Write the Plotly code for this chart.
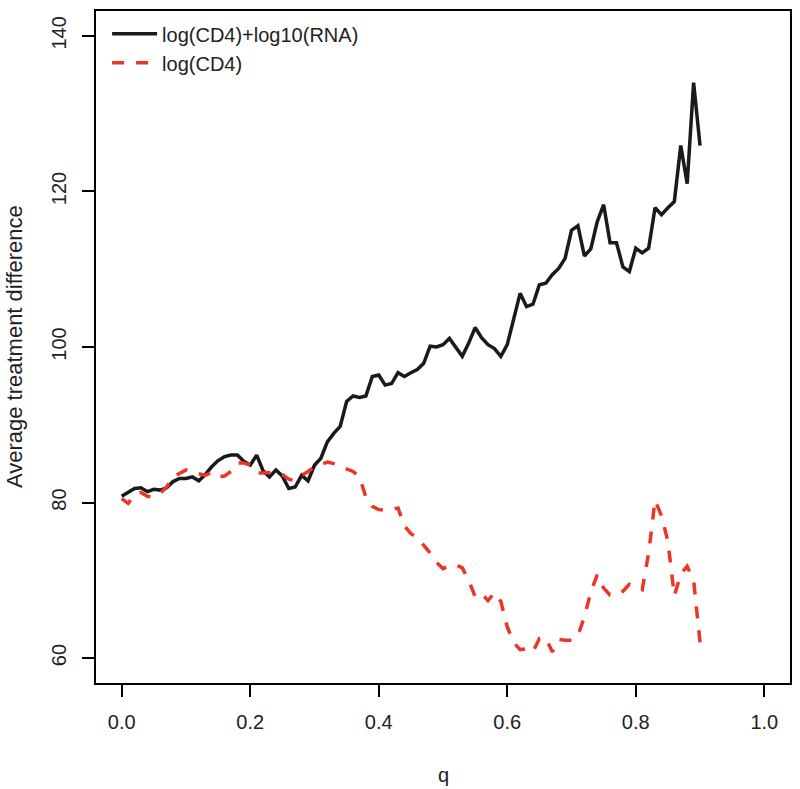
import plotly.graph_objects as go

# q grid: 0.00 .. 0.90 in steps of 0.01
q = [i / 100 for i in range(91)]

cd4_rna = [
    80.8, 81.3, 81.8, 81.9, 81.4, 81.7, 81.6, 81.9, 82.7, 83.1,
    83.1, 83.3, 82.8, 83.6, 84.6, 85.4, 85.9, 86.1, 86.1, 85.3,
    84.8, 86.1, 84.1, 83.3, 84.2, 83.4, 81.8, 82.0, 83.5, 82.8,
    84.8, 85.7, 87.8, 88.9, 89.8, 93.0, 93.7, 93.5, 93.7, 96.2,
    96.4, 95.1, 95.3, 96.7, 96.2, 96.7, 97.1, 97.9, 100.1, 100.0,
    100.3, 101.1, 100.0, 98.8, 100.5, 102.5, 101.2, 100.3, 99.8, 98.8,
    100.3, 103.5, 106.9, 105.2, 105.5, 108.0, 108.2, 109.3, 110.1, 111.4,
    115.0, 115.6, 111.7, 112.6, 116.1, 118.3, 113.4, 113.4, 110.3, 109.7,
    112.7, 112.1, 112.7, 117.9, 117.0, 117.9, 118.7, 125.9, 121.0, 134.0,
    125.9,
]

cd4 = [
    80.5, 79.9, 81.0, 81.3, 80.8, 80.7, 81.2, 82.0, 83.3, 83.8,
    84.2, 83.9, 83.7, 83.5, 83.9, 83.3, 83.4, 84.0, 85.1, 85.1,
    84.8, 83.8, 83.8, 83.8, 83.9, 83.6, 83.0, 82.8, 83.5, 84.0,
    84.6, 84.9, 85.2, 85.0, 84.7, 84.3, 84.0, 83.3, 80.7, 79.5,
    79.1, 79.0, 79.2, 79.3, 77.0, 76.0, 75.5, 74.5, 73.5, 72.3,
    71.5, 71.9, 72.0, 71.6, 70.0, 67.9, 68.3, 67.4, 68.4, 67.3,
    64.0, 62.0, 61.1, 61.2, 60.8, 62.5, 62.6, 60.8, 62.4, 62.3,
    62.3, 62.9, 65.3, 68.5, 70.7, 69.0, 68.1, 68.2, 68.6, 69.5,
    69.2, 68.8, 73.5, 80.3, 78.3, 75.0, 68.0, 70.8, 71.8, 70.0,
    62.0,
]

series_names = ["log(CD4)+log10(RNA)", "log(CD4)"]
x_ticks = [0.0, 0.2, 0.4, 0.6, 0.8, 1.0]
y_ticks = [60, 80, 100, 120, 140]

FONT = "Liberation Sans, Arial, sans-serif"
RED = "#ec3524"

fig = go.Figure()
fig.add_trace(go.Scatter(
    x=q, y=cd4_rna, mode="lines", name=series_names[0],
    line=dict(color="#1a1a1a", width=3.5),
))
fig.add_trace(go.Scatter(
    x=q, y=cd4, mode="lines", name=series_names[1],
    line=dict(color=RED, width=3.5, dash="12px,12px"),
))

axis_common = dict(
    showgrid=False, zeroline=False,
    showline=True, linecolor="black", linewidth=2, mirror=True,
    ticks="outside", ticklen=12, tickwidth=1.5, tickcolor="black",
    tickfont=dict(family=FONT, size=20, color="#222"),
)

fig.update_layout(
    width=800, height=789,
    plot_bgcolor="white", paper_bgcolor="white",
    margin=dict(l=96, r=8, t=11, b=106),
    xaxis=dict(**axis_common, range=[-0.04, 1.04], tickvals=x_ticks,
               ticktext=[f"{v:.1f}" for v in x_ticks], ticklabelstandoff=8),
    yaxis=dict(**axis_common, range=[56.8, 143.2], tickvals=y_ticks,
               tickangle=-90, ticklabelstandoff=8),
    showlegend=True,
    legend=dict(x=0.016, y=0.995, xanchor="left", yanchor="top",
                bgcolor="rgba(0,0,0,0)", itemwidth=45, tracegroupgap=0,
                font=dict(family=FONT, size=20, color="#222")),
    annotations=[
        dict(text="q", xref="paper", yref="paper", x=0.5, y=-0.137,
             xanchor="center", yanchor="middle", showarrow=False,
             font=dict(family=FONT, size=20, color="#222")),
        dict(text="Average treatment difference", xref="paper", yref="paper",
             x=-0.118, y=0.5, textangle=-90, xanchor="center", yanchor="middle",
             showarrow=False, font=dict(family=FONT, size=22, color="#222")),
    ],
)

fig.write_html("out.html", config={"displayModeBar": False},
               post_script="document.body.style.margin='0';")
